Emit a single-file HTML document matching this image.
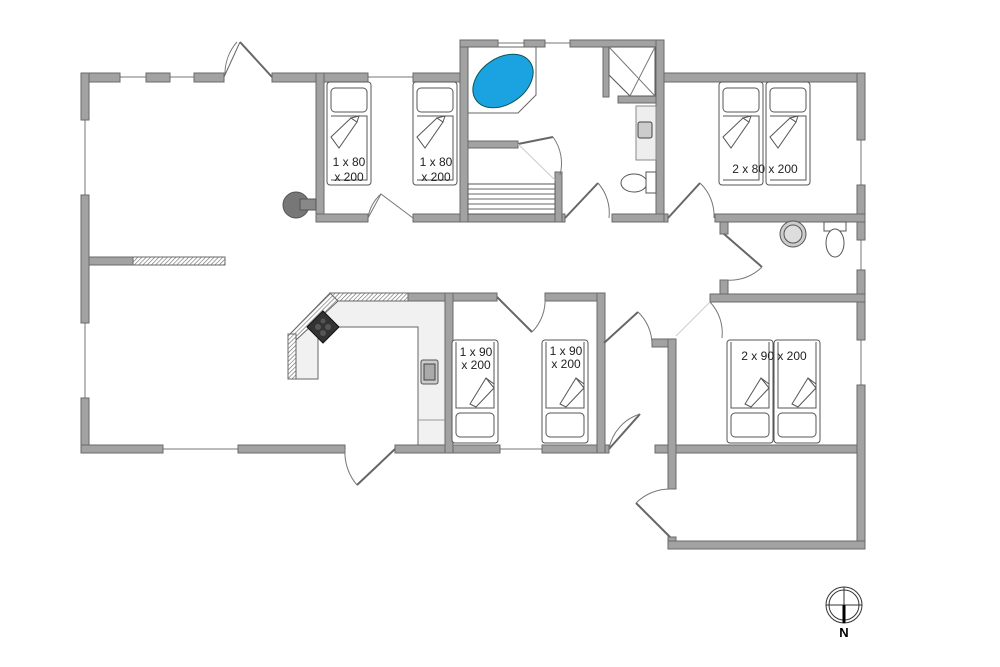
<!DOCTYPE html>
<html><head><meta charset="utf-8"><style>
html,body{margin:0;padding:0;background:#fff;}
svg{display:block;font-family:"Liberation Sans",sans-serif;}
.w{fill:#a2a2a2;stroke:#6a6a6a;stroke-width:1;}
.h{fill:url(#hat);stroke:#6a6a6a;stroke-width:1;}
.win{stroke:#777;stroke-width:1;fill:none;}
.bed{fill:#fff;stroke:#555;stroke-width:1;}
.dr{fill:none;stroke:#777;stroke-width:1;}
.dl{fill:#fff;stroke:#666;stroke-width:1;}
.t{font-size:12px;fill:#222;}
</style></head><body>
<svg width="1000" height="667" viewBox="0 0 1000 667" xmlns="http://www.w3.org/2000/svg">
<defs>
<pattern id="hat" width="3" height="3" patternUnits="userSpaceOnUse" patternTransform="rotate(45)">
<rect width="3" height="3" fill="#fff"/><line x1="0" y1="0" x2="0" y2="3" stroke="#666" stroke-width="1.2"/></pattern>
<g id="bedD">
<rect class="bed" x="0" y="0" width="44" height="103" rx="3"/>
<rect class="bed" x="4" y="6" width="36" height="24" rx="4"/>
<polyline class="bed" points="4,34 40,34 40,98 4,98"/>
<polygon class="bed" points="4,55 24,36 30,40 12,66"/>
<polygon class="bed" points="24,36 32,34 30,40" />
</g>
<g id="bedU">
<rect class="bed" x="0" y="0" width="46" height="103" rx="3"/>
<rect class="bed" x="4" y="73" width="38" height="24" rx="4"/>
<polyline class="bed" points="4,2 4,68 42,68 42,2"/>
<polygon class="bed" points="42,48 24,67 18,64 34,38"/>
<polygon class="bed" points="34,38 42,44 42,48"/>
</g>
</defs>

<g class="win">
<line x1="120" y1="77" x2="146" y2="77"/>
<line x1="170" y1="77" x2="194" y2="77"/>
<line x1="85" y1="120" x2="85" y2="195"/><line x1="85" y1="323" x2="85" y2="398"/>
<line x1="163" y1="449" x2="238" y2="449"/>
<line x1="368" y1="77" x2="413" y2="77"/>
<line x1="498" y1="43" x2="524" y2="43"/><line x1="545" y1="43" x2="570" y2="43"/>
<line x1="500" y1="449" x2="542" y2="449"/>
<line x1="861" y1="140" x2="861" y2="185"/><line x1="861" y1="240" x2="861" y2="270"/>
<line x1="861" y1="340" x2="861" y2="385"/>
</g>

<g class="w">
<rect x="81" y="73" width="39" height="9"/>
<rect x="146" y="73" width="24" height="9"/>
<rect x="194" y="73" width="30" height="9"/>
<rect x="272" y="73" width="96" height="9"/>
<rect x="413" y="73" width="49" height="9"/>
<rect x="81" y="73" width="8" height="47"/>
<rect x="81" y="195" width="8" height="128"/>
<rect x="81" y="398" width="8" height="55"/>
<rect x="81" y="445" width="82" height="8"/>
<rect x="238" y="445" width="107" height="8"/>
<rect x="395" y="445" width="105" height="8"/>
<rect x="542" y="445" width="67" height="8"/>
<rect x="655" y="445" width="210" height="8"/>
<rect x="89" y="257" width="44" height="8"/>
<rect x="316" y="73" width="8" height="149"/>
<rect x="316" y="214" width="52" height="8"/>
<rect x="413" y="214" width="152" height="8"/>
<rect x="460" y="40" width="8" height="182"/>
<rect x="460" y="40" width="38" height="7"/>
<rect x="524" y="40" width="21" height="7"/>
<rect x="570" y="40" width="94" height="7"/>
<rect x="656" y="40" width="8" height="182"/>
<rect x="468" y="141" width="50" height="7"/>
<rect x="555" y="172" width="7" height="50"/>
<rect x="603" y="47" width="6" height="50"/>
<rect x="618" y="96" width="38" height="7"/>
<rect x="612" y="214" width="52" height="8"/>
<rect x="664" y="73" width="201" height="9"/>
<rect x="857" y="73" width="8" height="67"/>
<rect x="857" y="185" width="8" height="55"/>
<rect x="857" y="270" width="8" height="70"/>
<rect x="857" y="385" width="8" height="164"/>
<rect x="664" y="214" width="4" height="8"/>
<rect x="715" y="214" width="150" height="8"/>
<rect x="720" y="222" width="8" height="12"/>
<rect x="720" y="280" width="8" height="22"/>
<rect x="710" y="294" width="155" height="8"/>
<rect x="330" y="293" width="167" height="8" />
<rect x="545" y="293" width="59" height="8"/>
<rect x="445" y="293" width="8" height="160"/>
<rect x="597" y="293" width="8" height="160"/>
<rect x="652" y="339" width="24" height="8"/>
<rect x="668" y="339" width="8" height="150"/>
<rect x="668" y="537" width="8" height="12"/>
<rect x="668" y="541" width="197" height="8"/>
</g>
<rect class="h" x="133" y="257" width="92" height="8"/>
<rect class="h" x="330" y="293" width="78" height="8"/>
<polygon class="h" points="330,293 338,301 298,340 290,334"/>
<rect class="h" x="288" y="334" width="8" height="45"/>

<path d="M338,301 L445,301 L445,445 L418,445 L418,327 L318,327 L318,379 L296,379 L296,340 Z" fill="#f1f1f1" stroke="#666"/>
<line x1="418" y1="420" x2="445" y2="420" stroke="#999"/>
<rect x="421" y="360" width="17" height="24" rx="2" fill="#ccc" stroke="#555"/>
<rect x="424" y="364" width="11" height="16" fill="#aaa" stroke="#444"/>
<polygon points="307,327 323,311 339,327 323,343" fill="#333" stroke="#111"/>
<circle cx="318" cy="327" r="3" fill="#555"/><circle cx="328" cy="327" r="3" fill="#555"/>
<circle cx="323" cy="321" r="2.5" fill="#555"/><circle cx="323" cy="333" r="3" fill="#555"/>

<circle cx="296" cy="205" r="13" fill="#777" stroke="#555"/>
<rect x="300" y="199" width="16" height="11" fill="#888" stroke="#555"/>

<use href="#bedD" x="327" y="82"/>
<use href="#bedD" x="413" y="82"/>
<use href="#bedD" x="719" y="82"/>
<use href="#bedD" x="766" y="82"/>
<use href="#bedU" x="452" y="340"/>
<use href="#bedU" x="542" y="340"/>
<use href="#bedU" x="727" y="340"/>
<use href="#bedU" x="774" y="340"/>
<text class="t" x="349" y="166" text-anchor="middle">1 x 80</text>
<text class="t" x="349" y="181" text-anchor="middle">x 200</text>
<text class="t" x="436" y="166" text-anchor="middle">1 x 80</text>
<text class="t" x="436" y="181" text-anchor="middle">x 200</text>
<text class="t" x="765" y="173" text-anchor="middle">2 x 80 x 200</text>
<text class="t" x="476" y="356" text-anchor="middle">1 x 90</text>
<text class="t" x="476" y="369" text-anchor="middle">x 200</text>
<text class="t" x="566" y="355" text-anchor="middle">1 x 90</text>
<text class="t" x="566" y="368" text-anchor="middle">x 200</text>
<text class="t" x="774" y="360" text-anchor="middle">2 x 90 x 200</text>

<polygon points="468,47 536,47 536,95 518,113 468,113" fill="#fff" stroke="#666"/>
<ellipse cx="503" cy="81" rx="33" ry="23" transform="rotate(-35 503 81)" fill="#1aa3e0" stroke="#155"/>
<polygon points="609,47 655,47 655,96 630,96 609,75" fill="#fff" stroke="#555"/>
<line x1="609" y1="47" x2="655" y2="96" stroke="#777"/><line x1="655" y1="47" x2="630" y2="96" stroke="#777"/>
<rect x="636" y="106" width="20" height="54" fill="#eee" stroke="#888"/>
<rect x="638" y="122" width="14" height="16" rx="2" fill="#ccc" stroke="#444"/>
<ellipse cx="634" cy="183" rx="13" ry="9" fill="#fff" stroke="#555"/>
<rect x="646" y="172" width="10" height="21" fill="#fff" stroke="#555"/>
<circle cx="793" cy="234" r="13" fill="#ccc" stroke="#555"/>
<circle cx="793" cy="234" r="9" fill="#ddd" stroke="#555"/>
<rect x="824" y="222" width="22" height="9" fill="#fff" stroke="#555"/>
<ellipse cx="835" cy="243" rx="9" ry="14" fill="#fff" stroke="#555"/>
<rect x="468" y="184" width="87" height="30" fill="#fff" stroke="#555"/>
<g stroke="#666"><line x1="468" y1="189" x2="555" y2="189"/><line x1="468" y1="194" x2="555" y2="194"/><line x1="468" y1="199" x2="555" y2="199"/><line x1="468" y1="204" x2="555" y2="204"/><line x1="468" y1="209" x2="555" y2="209"/></g>

<g>
<line x1="224" y1="77" x2="240" y2="42" class="dl" stroke-width="3"/><line x1="240" y1="42" x2="272" y2="77" stroke="#666" stroke-width="2"/>
<path class="dr" d="M225,75 A48,48 0 0 1 237,42"/>
<polyline points="368,218 381,194 413,218" class="dr" stroke-width="2"/>
<path class="dr" d="M368,218 A40,40 0 0 1 381,194"/>
<line x1="518" y1="144" x2="553" y2="137" stroke="#666" stroke-width="2"/><line x1="518" y1="144" x2="555" y2="180" stroke="#ccc"/>
<path class="dr" d="M553,137 A45,45 0 0 1 560,175"/>
<line x1="565" y1="218" x2="598" y2="183" stroke="#666" stroke-width="2"/><path class="dr" d="M598,183 A45,45 0 0 1 609,218"/>
<line x1="668" y1="218" x2="700" y2="183" stroke="#666" stroke-width="2"/><path class="dr" d="M700,183 A45,45 0 0 1 714,218"/>
<line x1="724" y1="234" x2="762" y2="267" stroke="#666" stroke-width="2"/><path class="dr" d="M762,267 A45,45 0 0 1 726,280"/>
<line x1="710" y1="302" x2="676" y2="336" stroke="#ccc"/><path class="dr" d="M710,302 A45,45 0 0 1 722,338"/>
<line x1="497" y1="297" x2="532" y2="332" stroke="#666" stroke-width="2"/><path class="dr" d="M532,332 A45,45 0 0 0 545,297"/>
<line x1="604" y1="343" x2="638" y2="312" stroke="#666" stroke-width="2"/><path class="dr" d="M638,312 A45,45 0 0 1 652,343"/>
<line x1="609" y1="449" x2="640" y2="414" stroke="#666" stroke-width="2"/><path class="dr" d="M640,414 A45,45 0 0 0 609,449"/>
<line x1="395" y1="449" x2="357" y2="485" stroke="#666" stroke-width="2"/>
<path class="dr" d="M345,449 A50,50 0 0 0 357,485"/>
<line x1="670" y1="537" x2="636" y2="503" stroke="#666" stroke-width="2"/><path class="dr" d="M636,503 A48,48 0 0 1 670,489"/>
</g>

<circle cx="844" cy="605" r="18" fill="none" stroke="#333"/>
<circle cx="844" cy="605" r="15" fill="none" stroke="#333"/>
<line x1="826" y1="605" x2="862" y2="605" stroke="#333"/>
<line x1="844" y1="587" x2="844" y2="605" stroke="#333"/>
<line x1="844" y1="605" x2="844" y2="623" stroke="#000" stroke-width="3"/>
<text x="844" y="637" text-anchor="middle" font-size="13" font-weight="bold">N</text>
</svg>
</body></html>
